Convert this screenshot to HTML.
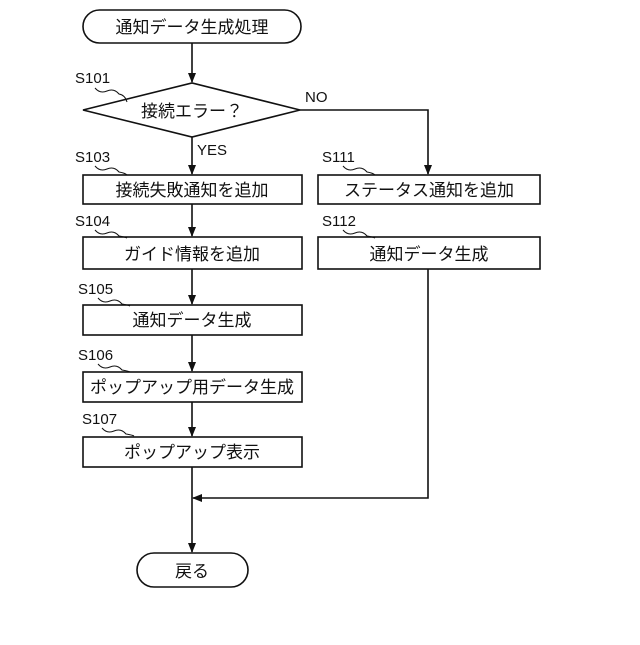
<!DOCTYPE html>
<html><head><meta charset="utf-8"><style>
body{margin:0;background:#fff;}
svg text{font-family:"Liberation Sans","Noto Sans CJK JP",sans-serif;fill:#111;}
</style></head><body>
<svg width="640" height="640" viewBox="0 0 640 640" xmlns="http://www.w3.org/2000/svg">
<defs><marker id="a" markerWidth="10" markerHeight="10" refX="9" refY="5" orient="auto" markerUnits="userSpaceOnUse"><path d="M0,1 L10,5 L0,9 Z" fill="#111"/></marker></defs>
<g stroke="#111" stroke-width="1.6" fill="none">
<rect x="83" y="10" width="218" height="33" rx="16.5"/>
<polygon points="83,110 192,83 300,110 192,137"/>
<rect x="83" y="175" width="219" height="29"/>
<rect x="83" y="237" width="219" height="32"/>
<rect x="83" y="305" width="219" height="30"/>
<rect x="83" y="372" width="219" height="30"/>
<rect x="83" y="437" width="219" height="30"/>
<rect x="318" y="175" width="222" height="29"/>
<rect x="318" y="237" width="222" height="32"/>
<rect x="137" y="553" width="111" height="34" rx="17"/>
<line x1="192" y1="43" x2="192" y2="82" marker-end="url(#a)"/>
<line x1="192" y1="137" x2="192" y2="174" marker-end="url(#a)"/>
<line x1="192" y1="204" x2="192" y2="236" marker-end="url(#a)"/>
<line x1="192" y1="269" x2="192" y2="304" marker-end="url(#a)"/>
<line x1="192" y1="335" x2="192" y2="371" marker-end="url(#a)"/>
<line x1="192" y1="402" x2="192" y2="436" marker-end="url(#a)"/>
<line x1="192" y1="467" x2="192" y2="552" marker-end="url(#a)"/>
<polyline points="300,110 428,110 428,174" marker-end="url(#a)"/>
<polyline points="428,269 428,498 193,498" marker-end="url(#a)"/>
<g stroke-width="1">
<path d="M95,88 q5,6 12,3 t12,3 q6,1 8,8"/>
<path d="M95,166 q5,6 12,3 t12,3 q6,1 8,3"/>
<path d="M95,230 q5,6 12,3 t12,3 q6,1 8,2"/>
<path d="M98,298 q5,6 12,3 t12,3 q6,1 8,2"/>
<path d="M98,364 q5,6 12,3 t12,3 q6,1 8,2"/>
<path d="M102,428 q5,6 12,3 t12,3 q6,1 8,2"/>
<path d="M343,166 q5,6 12,3 t12,3 q6,1 8,3"/>
<path d="M343,230 q5,6 12,3 t12,3 q6,1 8,2"/>
</g>
</g>
<g font-size="17" text-anchor="middle">
<text x="192" y="33">通知データ生成処理</text>
<text x="192" y="117">接続エラー？</text>
<text x="192" y="196">接続失敗通知を追加</text>
<text x="192" y="260">ガイド情報を追加</text>
<text x="192" y="326">通知データ生成</text>
<text x="192" y="393">ポップアップ用データ生成</text>
<text x="192" y="458">ポップアップ表示</text>
<text x="429" y="196">ステータス通知を追加</text>
<text x="429" y="260">通知データ生成</text>
<text x="192" y="577">戻る</text>
</g>
<g font-size="15">
<text x="75" y="83">S101</text>
<text x="75" y="162">S103</text>
<text x="75" y="226">S104</text>
<text x="78" y="294">S105</text>
<text x="78" y="360">S106</text>
<text x="82" y="424">S107</text>
<text x="322" y="162">S111</text>
<text x="322" y="226">S112</text>
<text x="305" y="102">NO</text>
<text x="197" y="155">YES</text>
</g>
</svg>
</body></html>
